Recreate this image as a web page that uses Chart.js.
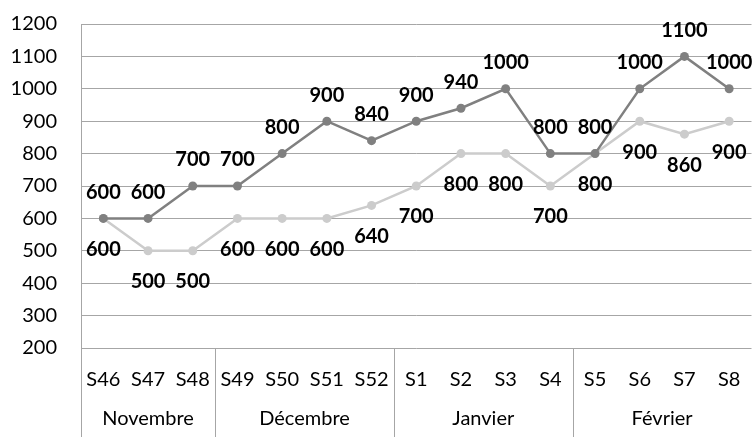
<!DOCTYPE html>
<html>
<head>
<meta charset="utf-8">
<script src="https://cdn.jsdelivr.net/npm/chart.js@4"></script>
<style>
  html, body { margin: 0; padding: 0; background: #fff; }
  #wrap { width: 756px; height: 437px; }
</style>
</head>
<body>
<div id="wrap"><canvas id="weekChart"></canvas></div>
<script>
const weeks = ['S46', 'S47', 'S48', 'S49', 'S50', 'S51', 'S52', 'S1', 'S2', 'S3', 'S4', 'S5', 'S6', 'S7', 'S8'];
const months = ['Novembre', 'Décembre', 'Janvier', 'Février'];
const monthSizes = [3, 4, 4, 4];   // weeks per month
const darkValues = [600, 600, 700, 700, 800, 900, 840, 900, 940, 1000, 800, 800, 1000, 1100, 1000];
const lightValues = [600, 500, 500, 600, 600, 600, 640, 700, 800, 800, 700, 800, 900, 860, 900];

const FONT = 'Lato, "Open Sans", sans-serif';

// value labels: dark series above its points, light series below
const valueLabels = {
    id: 'valueLabels',
    afterDatasetsDraw(chart) {
        const ctx = chart.ctx;
        ctx.save();
        ctx.font = 'bold 20px ' + FONT;
        ctx.fillStyle = '#000';
        ctx.textAlign = 'center';
        ctx.textBaseline = 'middle';
        chart.data.datasets.forEach((ds, i) => {
            const meta = chart.getDatasetMeta(i);
            meta.data.forEach((pt, j) => {
                const dy = ds.labelAbove ? -26 : 31;
                ctx.fillText(String(ds.data[j]), pt.x, pt.y + dy);
            });
        });
        ctx.restore();
    }
};

// month row under the week labels, with separators
const monthAxis = {
    id: 'monthAxis',
    afterDraw(chart) {
        const ctx = chart.ctx;
        const x = chart.scales.x;
        const area = chart.chartArea;
        const bottom = chart.height;
        const half = (x.getPixelForTick(1) - x.getPixelForTick(0)) / 2;
        ctx.save();
        ctx.strokeStyle = '#a6a6a6';
        ctx.lineWidth = 1;
        ctx.beginPath();
        ctx.moveTo(area.left + 0.5, area.bottom);
        ctx.lineTo(area.left + 0.5, bottom);
        ctx.stroke();
        ctx.font = '20px ' + FONT;
        ctx.fillStyle = '#000';
        ctx.textAlign = 'center';
        ctx.textBaseline = 'middle';
        let start = 0;
        months.forEach((m, k) => {
            const end = start + monthSizes[k] - 1;
            const left = x.getPixelForTick(start) - half;
            const right = x.getPixelForTick(end) + half;
            if (k < months.length - 1) {
                const sx = Math.round(right) + 0.5;
                ctx.beginPath();
                ctx.moveTo(sx, area.bottom);
                ctx.lineTo(sx, bottom);
                ctx.stroke();
            }
            ctx.fillText(m, (left + right) / 2, 419);
            start = end + 1;
        });
        ctx.restore();
    }
};

new Chart(document.getElementById('weekChart'), {
    type: 'line',
    data: {
        labels: weeks,
        datasets: [
            {
                label: 'Série 1',
                data: darkValues,
                borderColor: '#808080',
                backgroundColor: '#808080',
                borderWidth: 2.5,
                pointRadius: 4.5,
                pointBorderWidth: 0,
                labelAbove: true
            },
            {
                label: 'Série 2',
                data: lightValues,
                borderColor: '#cccccc',
                backgroundColor: '#cccccc',
                borderWidth: 2.5,
                pointRadius: 4.5,
                pointBorderWidth: 0,
                labelAbove: false
            }
        ]
    },
    options: {
        responsive: true,
        maintainAspectRatio: false,
        animation: false,
        layout: { padding: { top: 24, right: 4, left: 0, bottom: 0 } },
        plugins: {
            legend: { display: false },
            tooltip: { enabled: false }
        },
        scales: {
            x: {
                offset: true,
                grid: { display: false },
                border: { display: false },
                ticks: { color: '#000', font: { size: 20, family: FONT }, padding: 12, maxRotation: 0, autoSkip: false },
                afterFit(scale) { scale.height = 89; }
            },
            y: {
                min: 200,
                max: 1200,
                ticks: {
                    stepSize: 100,
                    color: '#000',
                    font: { size: 20, family: FONT },
                    padding: 2,
                    callback: v => String(v)
                },
                // invisible tick marks give the gap between labels and axis
                grid: { color: '#a6a6a6', drawTicks: true, tickLength: 22, tickColor: 'rgba(0,0,0,0)' },
                border: { display: true, color: '#a6a6a6' },
                afterFit(scale) { scale.width = 81; }
            }
        }
    },
    plugins: [valueLabels, monthAxis]
});
</script>
</body>
</html>
